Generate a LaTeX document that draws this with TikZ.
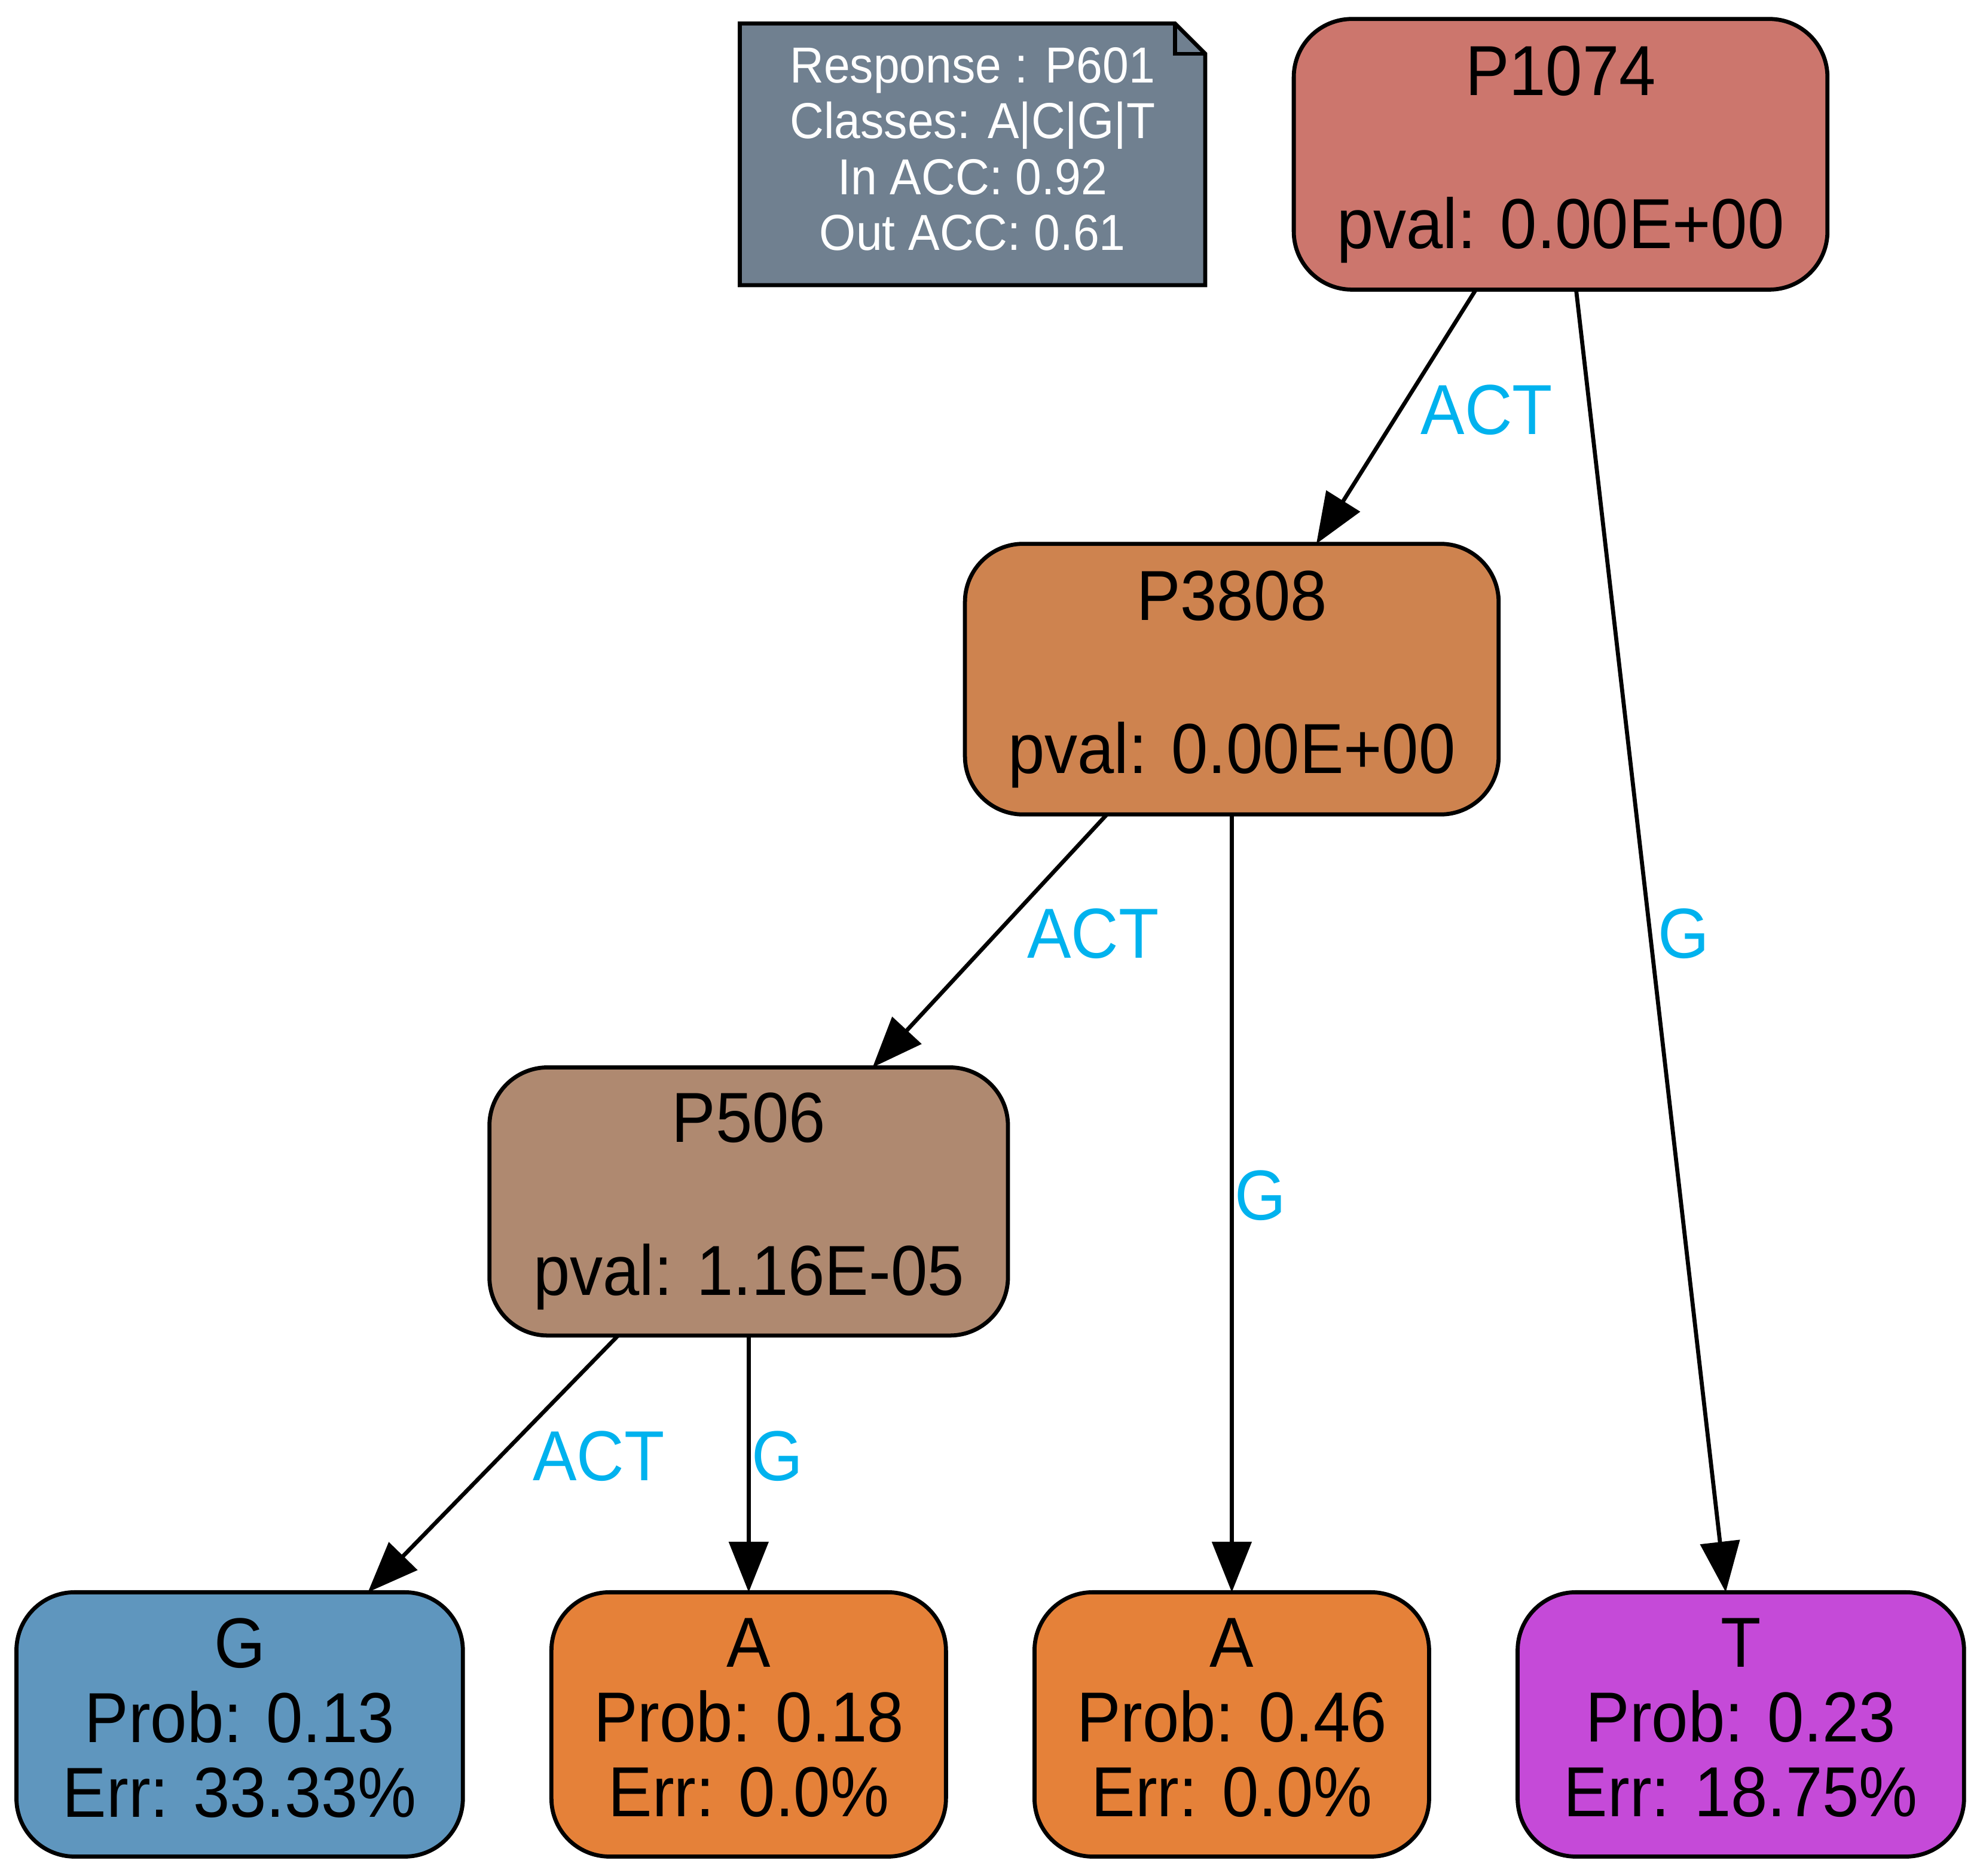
\documentclass[tikz,border=0pt]{standalone}
\usepackage{fontspec}
\setmainfont{Liberation Sans}[FakeStretch=0.93]
\usetikzlibrary{positioning,arrows.meta,backgrounds}
\definecolor{rootcol}{HTML}{CC766D}
\definecolor{midcol}{HTML}{CE834F}
\definecolor{lowcol}{HTML}{AF8970}
\definecolor{gcol}{HTML}{5F96BE}
\definecolor{acol}{HTML}{E58139}
\definecolor{tcol}{HTML}{C54AD8}
\definecolor{notecol}{HTML}{708090}
\definecolor{labcol}{HTML}{00B2EE}

\tikzset{
  treebox/.style={draw=black, line width=1.6pt, rounded corners=23pt, outer sep=0pt,
    align=center, inner sep=2pt, font=\fontsize{28}{30}\selectfont},
  splitnode/.style={treebox, minimum height=107pt},
  leafnode/.style={treebox, minimum height=104.5pt, text depth=5.4pt,
    font=\fontsize{28}{29.5}\selectfont},
  info/.style={align=center, text=white, inner sep=0pt, outer sep=0pt, text depth=4.3pt,
    minimum width=184pt, minimum height=103.5pt, font=\fontsize{20}{22}\selectfont},
  elabel/.style={text=labcol, inner sep=0pt, anchor=base west,
    font=\fontsize{28}{30}\selectfont},
  branch/.style={line width=1.6pt, -{Triangle[length=20pt,width=15.5pt]}}
}

\begin{document}
\begin{tikzpicture}[x=0.5pt, y=-0.5pt]
  \useasboundingbox (0,0) rectangle (1568,1483);
  % Define nodes
  \node[splitnode, fill=rootcol, minimum width=211pt] at (1234,122) (p1074) {P1074\\[30.5pt]pval: 0.00E+00};
  \node[splitnode, fill=midcol, minimum width=211pt, below=100.5pt of p1074, xshift=-130pt] (p3808) {P3808\\[30.5pt]pval: 0.00E+00};
  \node[splitnode, fill=lowcol, minimum width=205pt, minimum height=106pt, below=100pt of p3808, xshift=-191pt] (p506) {P506\\[30.5pt]pval: 1.16E-05};
  \node[leafnode, fill=acol, minimum width=156pt, below=101.5pt of p506] (a1) {A\\Prob: 0.18\\Err: 0.0\%};
  \node[leafnode, fill=gcol, minimum width=176.5pt, left=35pt of a1] (g) {G\\Prob: 0.13\\Err: 33.33\%};
  \node[leafnode, fill=acol, minimum width=156pt, right=35pt of a1] (a2) {A\\Prob: 0.46\\Err: 0.0\%};
  \node[leafnode, fill=tcol, minimum width=176.5pt, right=35pt of a2] (t) {T\\Prob: 0.23\\Err: 18.75\%};
  \node[info, left=35pt of p1074] (note) {Response : P601\\Classes: A|C|G|T\\In ACC: 0.92\\Out ACC: 0.61};

  % Note shape
  \begin{scope}[on background layer]
    \draw[line width=1.6pt, fill=notecol] (note.north west) -- ([xshift=-12pt]note.north east)
      -- ([yshift=-12pt]note.north east) -- (note.south east) -- (note.south west) -- cycle;
    \draw[line width=1.6pt] ([xshift=-12pt]note.north east) |- ([yshift=-12pt]note.north east);
  \end{scope}

  % Connect the nodes
  \draw[branch] (p1074) -- node[elabel, pos=0.570, xshift=13.4pt] {ACT} (p3808);
  \draw[branch] (p1074) -- node[elabel, pos=0.513, xshift=1.3pt] {G} (t);
  \draw[branch] (p3808) -- node[elabel, pos=0.567, xshift=20.2pt] {ACT} (p506);
  \draw[branch] (p3808) -- node[elabel, pos=0.521, xshift=0.4pt] {G} (a2);
  \draw[branch] (p506) -- node[elabel, pos=0.566, xshift=21.5pt] {ACT} (g);
  \draw[branch] (p506) -- node[elabel, pos=0.566, xshift=0.3pt] {G} (a1);
\end{tikzpicture}
\end{document}
